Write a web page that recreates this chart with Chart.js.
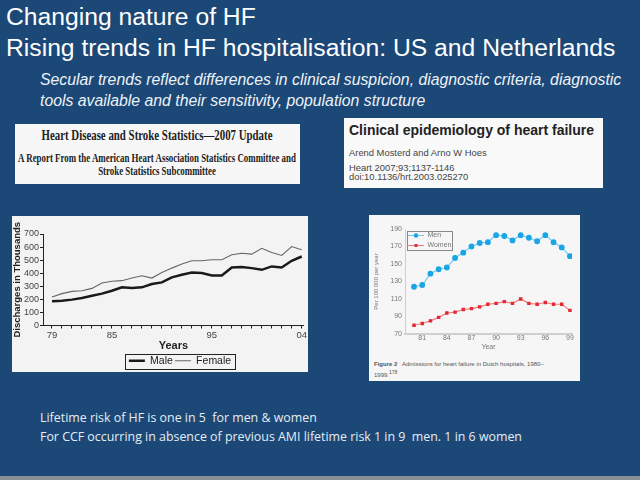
<!DOCTYPE html>
<html>
<head>
<meta charset="utf-8">
<script src="https://cdn.jsdelivr.net/npm/chart.js@4.4.0/dist/chart.umd.min.js"></script>
<style>
body { margin: 0; background: #1b4877; }
#slide { position: relative; width: 640px; height: 480px; overflow: hidden; background: #1b4877; font-family: "Liberation Sans", Arial, sans-serif; }
.t { position: absolute; white-space: nowrap; color: #fff; }
.box { position: absolute; }
#usBox { left: 15px; top: 124px; width: 285px; height: 60px; background: #f7f7f7; }
#nlBox { left: 344px; top: 118px; width: 259px; height: 70px; background: #f9f9f9; }
#usChartBox { left: 12px; top: 216px; width: 296px; height: 156px; background: #f3f3f3; }
#nlChartBox { left: 369px; top: 215px; width: 211px; height: 166px; background: #f6f6f6; }
.serif { position: absolute; left: -158px; width: 600px; text-align: center; white-space: nowrap;
  font-family: "Liberation Serif", "Times New Roman", serif; font-weight: bold; color: #222; transform-origin: center top; }
</style>
</head>
<body>
<div id="slide">
  <div class="t" style="left:6px;top:3px;font-size:24.7px;">Changing nature of HF</div>
  <div class="t" style="left:6px;top:34px;font-size:24.7px;">Rising trends in HF hospitalisation: US and Netherlands</div>
  <div class="t" style="left:40px;top:71px;font-size:15.8px;font-style:italic;color:#eef2f7;">Secular trends reflect differences in clinical suspicion, diagnostic criteria, diagnostic</div>
  <div class="t" style="left:40px;top:92px;font-size:15.8px;font-style:italic;color:#eef2f7;">tools available and their sensitivity, population structure</div>

  <div class="box" id="usBox">
    <div class="serif" style="top:4px;font-size:14px;transform:scaleX(0.775);">Heart Disease and Stroke Statistics—2007 Update</div>
    <div class="serif" style="top:27px;font-size:12px;transform:scaleX(0.74);">A Report From the American Heart Association Statistics Committee and</div>
    <div class="serif" style="top:40px;font-size:12px;transform:scaleX(0.74);">Stroke Statistics Subcommittee</div>
  </div>

  <div class="box" id="nlBox">
    <div class="t" style="left:5px;top:4px;font-size:14px;font-weight:bold;color:#222;">Clinical epidemiology of heart failure</div>
    <div class="t" style="left:5px;top:29px;font-size:9.4px;color:#444;">Arend Mosterd and Arno W Hoes</div>
    <div class="t" style="left:5px;top:45px;font-size:9.4px;color:#444;line-height:9px;">Heart 2007;93;1137-1146<br>doi:10.1136/hrt.2003.025270</div>
  </div>

  <div class="box" id="usChartBox"><canvas id="usChart" width="296" height="156"></canvas></div>
  <div class="box" id="nlChartBox">
    <canvas id="nlChart" width="211" height="136"></canvas>
    <div class="t" style="left:5px;top:145px;font-size:6px;color:#555;line-height:8px;"><b>Figure 2</b>&nbsp;&nbsp; Admissions for heart failure in Dutch hospitals, 1980–<br>1999.<sup>178</sup></div>
  </div>

  <div class="t" style="left:40px;top:409px;font-size:12.4px;font-family:'Open Sans',sans-serif;color:#e6ecf3;">Lifetime risk of HF is one in 5&nbsp; for men &amp; women</div>
  <div class="t" style="left:40px;top:428px;font-size:12.4px;font-family:'Open Sans',sans-serif;color:#e6ecf3;">For CCF occurring in absence of previous AMI lifetime risk 1 in 9&nbsp; men. 1 in 6 women</div>
  <div style="position:absolute;left:0;top:476px;width:640px;height:4px;background:#8a8f96;"></div>
</div>

<script>
// US: hospital discharges for heart failure (thousands), 1979-2004
var usYears = [1979, 1980, 1981, 1982, 1983, 1984, 1985, 1986, 1987, 1988, 1989, 1990, 1991,
    1992, 1993, 1994, 1995, 1996, 1997, 1998, 1999, 2000, 2001, 2002, 2003, 2004];
var usMale = [185, 190, 198, 211, 228, 244, 266, 292, 287, 292, 317, 330, 368,
    388, 406, 401, 383, 383, 444, 447, 439, 426, 452, 444, 495, 528];
var usFemale = [218, 244, 261, 266, 284, 325, 338, 343, 363, 381, 363, 406, 439,
    470, 495, 495, 503, 503, 541, 553, 546, 591, 558, 536, 604, 579];
var usTickLabels = { 1979: '79', 1985: '85', 1995: '95', 2004: '04' };

// Netherlands: admissions per 100 000 per year, 1980-1999
var nlYears = [1980, 1981, 1982, 1983, 1984, 1985, 1986, 1987, 1988, 1989,
    1990, 1991, 1992, 1993, 1994, 1995, 1996, 1997, 1998, 1999];
var nlMen = [124, 126, 139, 144, 146, 157, 163, 170, 174, 175,
    183, 182, 177, 183, 180, 176, 183, 175, 169, 159];
var nlWomen = [80, 82, 85, 89, 94, 95, 98, 99, 101, 104,
    105, 107, 105, 110, 105, 104, 106, 104, 104, 97];
var nlTicks = [1981, 1984, 1987, 1990, 1993, 1996, 1999];

function pts(xs, ys) {
    return xs.map(function (x, i) { return { x: x, y: ys[i] }; });
}

// little "line + marker" icon for the Dutch legend
function legendIcon(lineColor, dotColor, square) {
    var cv = document.createElement('canvas');
    cv.width = 16; cv.height = 5;
    var c = cv.getContext('2d');
    c.strokeStyle = lineColor; c.lineWidth = 1;
    c.beginPath(); c.moveTo(0, 2.5); c.lineTo(16, 2.5); c.stroke();
    c.fillStyle = dotColor;
    if (square) c.fillRect(6.5, 1, 3, 3);
    else { c.beginPath(); c.arc(8, 2.5, 2.2, 0, Math.PI * 2); c.fill(); }
    return cv;
}

var legendBorder = {
    id: 'legendBorder',
    afterLayout: function (chart, args, opts) {
        var lg = chart.legend;
        if (!lg) return;
        if (lg.options.position === 'chartArea') {
            // v4 puts a 'chartArea' legend at the canvas top, move it to the plot top
            var h = lg.bottom - lg.top;
            lg.top = chart.chartArea.top;
            lg.bottom = lg.top + h;
        }
        if (opts.shiftX) { lg.left += opts.shiftX; lg.right += opts.shiftX; }
        if (opts.shiftY) { lg.top += opts.shiftY; lg.bottom += opts.shiftY; }
    },
    afterDraw: function (chart, args, opts) {
        var boxes = chart.legend && chart.legend.legendHitBoxes;
        if (!boxes || !boxes.length) return;
        var l = Infinity, t = Infinity, r = -Infinity, b = -Infinity;
        boxes.forEach(function (h) {
            l = Math.min(l, h.left); t = Math.min(t, h.top);
            r = Math.max(r, h.left + h.width); b = Math.max(b, h.top + h.height);
        });
        var c = chart.ctx;
        c.save();
        c.strokeStyle = opts.color || '#000';
        c.lineWidth = 1;
        c.strokeRect(Math.round(l - opts.padX) + 0.5, Math.round(t - opts.padY) + 0.5,
            Math.round(r - l + opts.padX * 2), Math.round(b - t + opts.padY * 2));
        c.restore();
    }
};

new Chart(document.getElementById('usChart'), {
    type: 'line',
    data: {
        datasets: [
            { label: 'Male', data: pts(usYears, usMale), borderColor: '#1a1a1a', borderWidth: 2.5, pointRadius: 0, tension: 0 },
            { label: 'Female', data: pts(usYears, usFemale), borderColor: '#666', borderWidth: 1.1, pointRadius: 0, tension: 0 }
        ]
    },
    options: {
        responsive: false,
        animation: false,
        layout: { padding: { top: 18, right: 4, left: 0, bottom: 0 } },
        scales: {
            x: {
                type: 'linear', min: 1978.1, max: 2004.2,
                afterBuildTicks: function (s) { s.ticks = usYears.map(function (y) { return { value: y }; }); },
                afterFit: function (s) { s.height = 24; },
                ticks: {
                    autoSkip: false, maxRotation: 0, padding: 1,
                    font: { family: 'Liberation Sans', size: 9.5 }, color: '#444',
                    callback: function (v) { return usTickLabels[v] || ''; }
                },
                grid: { drawOnChartArea: false, tickLength: 3, color: '#222' },
                border: { color: '#222', width: 1 },
                title: { display: true, text: 'Years', padding: { top: 0, bottom: -3 }, font: { family: 'Liberation Sans', size: 11, weight: 'bold' }, color: '#222' }
            },
            y: {
                min: 0, max: 700,
                afterFit: function (s) { s.width = 31; },
                ticks: { stepSize: 100, autoSkip: false, padding: 1, font: { family: 'Liberation Sans', size: 9 }, color: '#444' },
                grid: { drawOnChartArea: false, tickLength: 3, color: '#222' },
                border: { color: '#222', width: 1 },
                title: { display: true, text: 'Discharges in Thousands', padding: 0, font: { family: 'Liberation Sans', size: 9.5, weight: 'bold' }, color: '#222' }
            }
        },
        plugins: {
            legend: {
                position: 'bottom',
                labels: { usePointStyle: true, pointStyle: 'line', pointStyleWidth: 16, padding: 2, color: '#222', font: { family: 'Liberation Sans', size: 10.5 } }
            },
            legendBorder: { color: '#222', padX: 4, padY: 2, shiftX: 22, shiftY: 4 },
            tooltip: { enabled: false }
        }
    },
    plugins: [legendBorder]
});

new Chart(document.getElementById('nlChart'), {
    type: 'line',
    data: {
        datasets: [
            { label: 'Men', data: pts(nlYears, nlMen), borderColor: '#74c8f0', borderWidth: 1.2, pointBackgroundColor: '#19a5e6', pointBorderColor: '#19a5e6', pointStyle: 'circle', pointRadius: 2.3, tension: 0 },
            { label: 'Women', data: pts(nlYears, nlWomen), borderColor: '#f07c80', borderWidth: 1.2, pointBackgroundColor: '#e32a32', pointBorderColor: '#e32a32', pointStyle: 'rect', pointRadius: 1.6, tension: 0 }
        ]
    },
    options: {
        responsive: false,
        animation: false,
        layout: { padding: { top: 14, right: 8, left: 0, bottom: 0 } },
        scales: {
            x: {
                type: 'linear', min: 1978.9, max: 1999.25,
                afterBuildTicks: function (s) { s.ticks = nlTicks.map(function (y) { return { value: y }; }); },
                afterFit: function (s) { s.height = 17; },
                ticks: {
                    autoSkip: false, maxRotation: 0, padding: 0,
                    font: { family: 'Liberation Sans', size: 7 }, color: '#777',
                    callback: function (v) { return String(v).slice(2); }
                },
                grid: { drawOnChartArea: false, tickLength: 0 },
                border: { color: '#cfcfcf', width: 2 },
                title: { display: true, text: 'Year', padding: 0, font: { family: 'Liberation Sans', size: 7 }, color: '#777' }
            },
            y: {
                min: 70, max: 190,
                afterFit: function (s) { s.width = 36; },
                ticks: { stepSize: 20, autoSkip: false, padding: 3, font: { family: 'Liberation Sans', size: 7 }, color: '#777' },
                grid: { drawOnChartArea: false, tickLength: 0 },
                border: { color: '#cfcfcf', width: 1 },
                title: { display: true, text: 'Per 100 000 per year', padding: 4, font: { family: 'Liberation Sans', size: 6 }, color: '#777' }
            }
        },
        plugins: {
            legend: {
                position: 'chartArea', align: 'start',
                labels: {
                    usePointStyle: true, pointStyleWidth: 16, boxHeight: 5, padding: 3, color: '#777',
                    font: { family: 'Liberation Sans', size: 7 },
                    generateLabels: function (chart) {
                        return chart.data.datasets.map(function (ds, i) {
                            return {
                                text: ds.label, datasetIndex: i, hidden: false, fontColor: '#777', lineWidth: 0,
                                pointStyle: legendIcon(ds.borderColor, ds.pointBackgroundColor, ds.pointStyle === 'rect')
                            };
                        });
                    }
                }
            },
            legendBorder: { color: '#888', padX: 1, padY: 1 },
            tooltip: { enabled: false }
        }
    },
    plugins: [legendBorder]
});
</script>
</body>
</html>
